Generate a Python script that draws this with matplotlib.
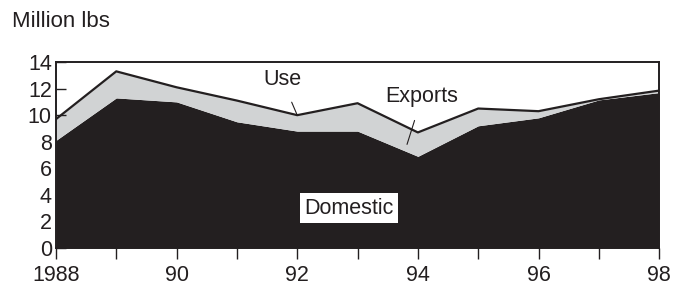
import matplotlib
matplotlib.use("Agg")
import matplotlib.pyplot as plt

years = [1988, 1989, 1990, 1991, 1992, 1993, 1994, 1995, 1996, 1997, 1998]
total_use = [9.7, 13.3, 12.1, 11.1, 10.0, 10.9, 8.7, 10.5, 10.3, 11.2, 11.85]
domestic = [8.1, 11.3, 11.0, 9.5, 8.8, 8.8, 6.9, 9.2, 9.8, 11.15, 11.7]
tick_labels = ["1988", "", "90", "", "92", "", "94", "", "96", "", "98"]

plt.rcParams["font.family"] = ["Liberation Sans", "DejaVu Sans"]
ink = "#231f20"

fig = plt.figure(figsize=(6.74, 2.90), dpi=100)
ax = fig.add_axes([0.083, 0.145, 0.895, 0.641])

ax.fill_between(years, 0, domestic, color=ink, lw=0, zorder=1)
ax.fill_between(years, domestic, total_use, color="#d1d3d4", lw=0, zorder=1)
ax.plot(years, total_use, color=ink, lw=1.6, zorder=2)

ax.set_xlim(1988, 1998)
ax.set_ylim(0, 14)
ax.set_yticks(range(0, 15, 2))
ax.set_xticks(years)
ax.set_xticklabels(tick_labels)

for s in ax.spines.values():
    s.set_linewidth(1.4)
    s.set_color(ink)

ax.tick_params(axis="x", direction="out", length=8, width=1.0, labelsize=15.5,
               pad=4, colors=ink)
ax.tick_params(axis="y", direction="in", length=7, width=1.0, labelsize=15.5,
               pad=3, colors=ink)

# labels
fig.text(0.018, 0.925, "Million lbs", fontsize=16, color=ink, va="center")
ax.annotate("Use", xy=(1992.0, 10.0), xytext=(1991.75, 12.65),
            fontsize=15.5, ha="center", va="center", color=ink,
            arrowprops=dict(arrowstyle="-", color=ink, lw=0.8,
                            shrinkA=7, shrinkB=0))
ax.annotate("Exports", xy=(1993.82, 7.8), xytext=(1994.07, 11.4),
            fontsize=15.5, ha="center", va="center", color=ink,
            arrowprops=dict(arrowstyle="-", color=ink, lw=0.8,
                            shrinkA=8, shrinkB=0))
ax.text(1992.86, 3.0, "Domestic", fontsize=15.5, ha="center", va="center",
        color=ink,
        bbox=dict(boxstyle="square,pad=0.2", fc="white", ec="none"))

plt.savefig("out.png", dpi=100)
